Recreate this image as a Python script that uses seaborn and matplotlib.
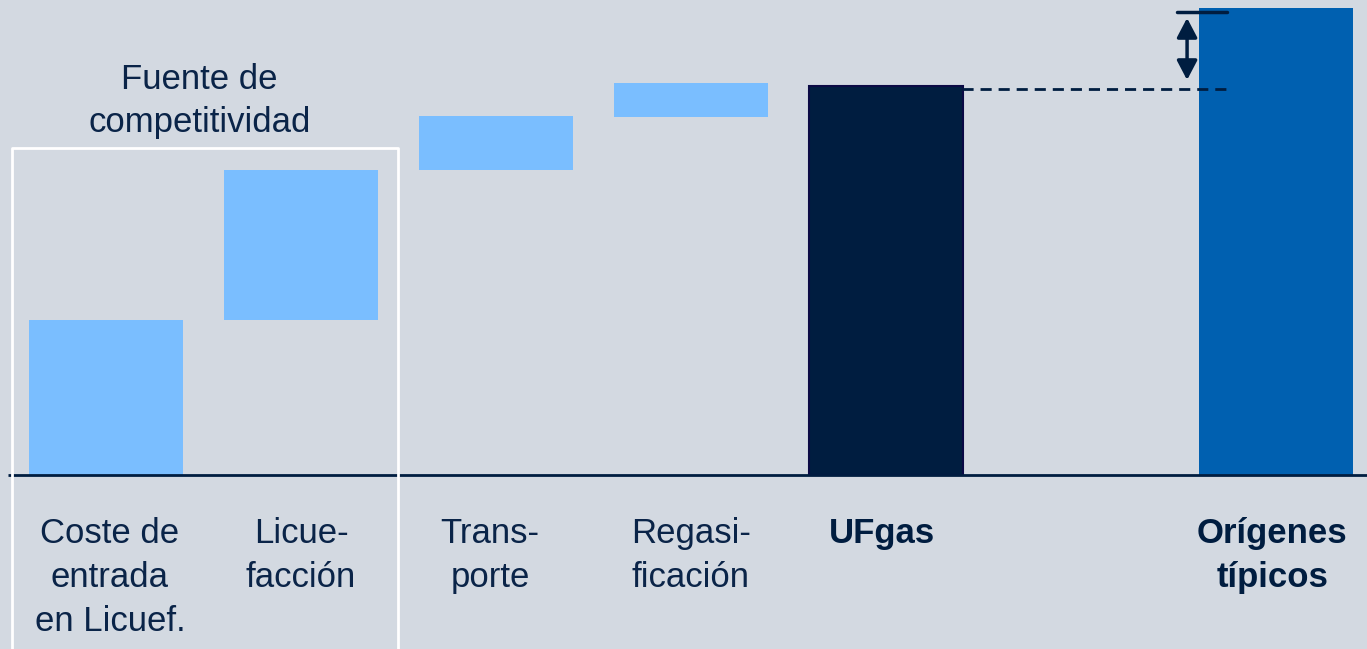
import numpy as np
import pandas as pd
import matplotlib
matplotlib.use('Agg')
import matplotlib.pyplot as plt
import seaborn as sns

# datos del gráfico (cascada de costes)
categorias = ['Coste de\nentrada\nen Licuef.', 'Licue-\nfacción', 'Trans-\nporte',
              'Regasi-\nficación', 'UFgas', 'Orígenes\ntípicos']
posiciones = [0, 1, 2, 3, 4, 6]
pasos = [3.1, 3.0, 1.07, 0.68]          # tramos de la cascada
total_ufgas = 7.78
origenes = 9.34
negrita = [False, False, False, False, True, True]

fondo = '#D3D9E1'
azul_claro = '#7ABEFF'
marino = '#001D40'
azul = '#0060B0'
texto = '#0A2448'

sns.set_theme(style='white')
plt.rcParams['font.family'] = ['Liberation Sans', 'DejaVu Sans']

# alturas y bases de cada barra
bases = list(np.concatenate([[0], np.cumsum(pasos)[:-1]])) + [0, 0]
alturas = pasos + [total_ufgas, origenes]
df = pd.DataFrame({'pos': posiciones, 'altura': alturas, 'base': bases})

fig = plt.figure(figsize=(13.67, 6.49), dpi=100, facecolor=fondo)
ax = fig.add_axes([0, 0, 1, 1])
ax.set_facecolor(fondo)

sns.barplot(data=df, x='pos', y='altura', native_scale=True, bottom=df['base'].tolist(),
            width=0.785, color=azul_claro, errorbar=None, linewidth=0, ax=ax)
colores = [azul_claro] * 4 + [marino, azul]
for p, c in zip(ax.patches, colores):
    p.set_facecolor(c)
ax.patches[4].set_edgecolor('#0B0A45')
ax.patches[4].set_linewidth(1.5)

ax.set_xlim(-0.5436, 6.4667)
ax.set_ylim(-3.48, 9.5)
ax.axis('off')

# línea base
ax.plot([-0.5026, 6.47], [0, 0], color=marino, lw=2, solid_capstyle='butt')

# etiquetas de categoría (pequeño ajuste horizontal para centrar como en el original)
ajuste = [0.02, 0.0, -0.03, 0.0, -0.02, -0.02]
for x, txt, b, dx in zip(posiciones, categorias, negrita, ajuste):
    ax.text(x + dx, -0.84, txt, ha='center', va='top', fontsize=25,
            color=marino if b else texto, fontweight='bold' if b else 'normal',
            linespacing=1.42)

# recuadro "Fuente de competitividad"
ax.plot([-0.482, -0.482, 1.497, 1.497], [-3.6, 6.54, 6.54, -3.6], color='white', lw=2)
ax.text(0.48, 7.48, 'Fuente de\ncompetitividad', ha='center', va='center', fontsize=25,
        color=texto, linespacing=1.42)

# diferencia UFgas vs orígenes típicos
ax.plot([4.392, 5.749], [total_ufgas - 0.06, total_ufgas - 0.06], color=marino, lw=2,
        ls=(0, (4, 2.5)))
ax.plot([5.492, 5.749], [origenes - 0.08, origenes - 0.08], color=marino, lw=2.5)
ax.annotate('', xy=(5.544, 9.14), xytext=(5.544, 7.9),
            arrowprops=dict(arrowstyle='<|-|>,head_length=0.42,head_width=0.22',
                            color=marino, lw=2.5, mutation_scale=28,
                            shrinkA=0, shrinkB=0))

fig.savefig('out.png', dpi=100, facecolor=fondo)
